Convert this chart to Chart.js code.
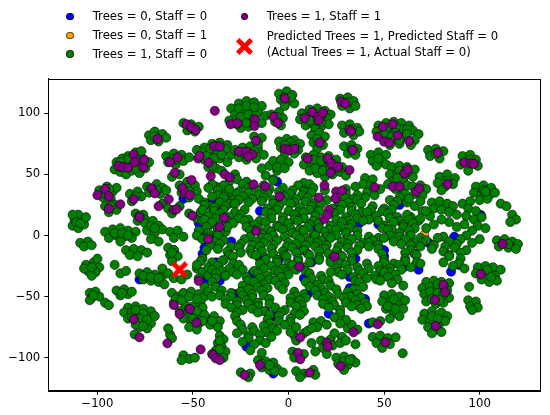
<!DOCTYPE html>
<html>
<head>
<meta charset="utf-8">
<script src="https://cdn.jsdelivr.net/npm/chart.js@4.4.1/dist/chart.umd.min.js"></script>
<style>
html,body{margin:0;padding:0;background:#fff;}
#wrap{position:relative;width:550px;height:415px;overflow:hidden;}
canvas{position:absolute;left:0;top:0;}
.lt{position:absolute;font-family:"DejaVu Sans",sans-serif;font-size:11.7px;line-height:14px;color:#000;white-space:nowrap;}
.dot{position:absolute;width:7.5px;height:7.5px;border-radius:50%;box-sizing:border-box;border:0.5px solid rgba(0,0,0,0.6);}
</style>
</head>
<body>
<div id="wrap">
<canvas id="c" width="550" height="415"></canvas>
<div class="dot" style="left:66.3px;top:12.9px;background:#0000ff"></div>
<div class="lt" style="left:92.7px;top:8.9px">Trees = 0, Staff = 0</div>
<div class="dot" style="left:66.3px;top:31.9px;background:#ffa500"></div>
<div class="lt" style="left:92.7px;top:28.2px">Trees = 0, Staff = 1</div>
<div class="dot" style="left:66.3px;top:50.2px;background:#008000"></div>
<div class="lt" style="left:92.7px;top:46.5px">Trees = 1, Staff = 0</div>
<div class="dot" style="left:240.6px;top:12.9px;background:#800080"></div>
<div class="lt" style="left:266.7px;top:8.9px">Trees = 1, Staff = 1</div>
<svg style="position:absolute;left:235.8px;top:38.2px" width="17" height="17" viewBox="-0.5 -0.5 1 1"><polygon fill="#ff0000" points="-0.5,-0.3 -0.3,-0.5 0,-0.2 0.3,-0.5 0.5,-0.3 0.2,0 0.5,0.3 0.3,0.5 0,0.2 -0.3,0.5 -0.5,0.3 -0.2,0"/></svg>
<div class="lt" style="left:266.7px;top:28.9px">Predicted Trees = 1, Predicted Staff = 0</div>
<div class="lt" style="left:266.7px;top:44.9px">(Actual Trees = 1, Actual Staff = 0)</div>
</div>
<script>
// ---- data ----
const xTicks = [-100, -50, 0, 50, 100];
const yTicks = [-100, -50, 0, 50, 100];

const seriesLabels = ["Trees = 0, Staff = 0", "Trees = 0, Staff = 1", "Trees = 1, Staff = 0", "Trees = 1, Staff = 1", "Predicted Trees = 1, Predicted Staff = 0 (Actual Trees = 1, Actual Staff = 0)"];

const bluePts = [
[-60,-12],[-45,-15],[-19,-31],[-21,-49],[-8,-66],[-22,-91],[-8,-113],[26,24],[7.5,40],[3,2],
[-36,39],[-47,10],[-46,-1],[-10,-66],[7.5,-12],[21,-64],[42,-72],[60.6,-25.5],[85,-29.6],[89,-24],
[73.6,-6.4],[86.7,-1],[100.6,16.8],[37,10],[-78,-36],[-38,-22],[-28,-48],[10,-48],[32,-43],[50,-12],
[-15,20],[-5,-20],[15,5],[45,15],[-30,-5],[-55,30],[-12,-62],[40,-52],[-44,-38],[66,-15],
[-40,29],[-33,4],[-44,-10],[-15,-19],[8,-35],[32,-34],[47,9],[50,-17],[35,-19],[-6,44],[58,25],[-36,-37],[12,-22],[68,-28]
];

const orangePts = [[71,0.4],[-18.6,-42]];

// outer clusters of the Trees = 1, Staff = 0 class
const greenOuter = [
[-113,8],[-110,6],[-107,9],[-112,13],[-108,13],[-110,17],[-106,15],[-113,17],[-111,11],[-109,10],
[-109,-6],[-105,-5],[-107,-9],[-103,-8],
[-106,-24],[-102,-22],[-99,-26],[-105,-29],[-101,-30],[-103,-33],[-100,-19],[-107,-27],[-103,-26],
[-91,-24],[-88,-31],[-85,-29],
[-85,-12],[-81,-11],[-77,-12],[-74,-14],[-83,-16],[-79,-17],
[-104,-47],[-101,-46],[-103,-51],[-99,-50],[-104,-53],[-102,-49],
[-96,-55],[-94,-57],
[-90,-45],[-86,-44],[-88,-49],[-84,-48],[-82,-46],[-87,-47],
[-84,-59],[-80,-58],[-76,-60],[-72,-62],[-86,-63],[-82,-63],[-78,-64],[-74,-66],[-70,-66],[-84,-68],[-80,-70],[-76,-71],[-72,-72],[-78,-75],[-74,-76],
[-80,-61],[-76,-64],[-82,-67],[-78,-68],[-74,-69],[-80,-73],[-76,-74],
[-80.5,-81],
[-62,-81],[-61,-84],[-63,-76],
[-55,-98],[-52,-101],[-49,-100],[-56,-102],
[-36,-82],[-34,-85],[-37,-88],[-35,-91],[-38,-94],[-40,-97],[-36,-97],[-33,-95],[-34,-100],[-36,-86],[-36,-93],
[-25,-112],[-20,-113],[-21,-116],
[-16,-102],[-12,-103],[-8,-104],[-14,-108],[-10,-110],[-6,-109],[-7,-111],[-3,-112],[-14,-105],[-10,-106],
[-61,-47],[-58,-50],[-55,-47],[-51,-46],[-47,-48],[-44,-50],[-60,-55],[-54,-57],[-50,-58],[-46,-55],[-57,-62],[-53,-64],[-49,-66],[-45,-63],[-55,-68],[-51,-70],[-47,-72],[-43,-68],[-39,-66],[-36,-70],[-52,-75],[-48,-77],[-41,-73],[-37,-75],
[-59,-52],[-56,-53],[-52,-50],[-48,-52],[-45,-59],[-52,-60],[-48,-62],[-44,-65],[-50,-68],[-45,-70],[-40,-70],
[-78,-31],[-74,-30],[-70,-32],[-66,-33],[-76,-36],[-72,-37],[-68,-38],[-65,-40],[-76,-33],[-72,-34],[-68,-35],
[-63,-10],[-60,-12],[-62,-16],[-58,-17],[-61,-21],[-61,-14],
[-66,-27],[-63,-31],[-60,-35],[-56,-36],[-53,-32],
[-48,-27],[-45,-30],[-42,-33],[-47,-35],
[-44,-42],[-42,-46],[-40,-50],
[-99,37],[-95,40],[-92,36],[-97,31],[-93,30],[-90,39],[-94,38],[-96,34],
[-96,24],[-91,25],[-94,19],[-90,21],[-93,24],
[-90,60],[-87,63],[-84,65],[-80,68],[-77,64],[-91,54],[-88,52],[-85,50],[-82,53],[-78,51],[-75,55],[-79,58],[-73,60],[-86,57],[-82,61],
[-88,56],[-84,58],[-80,64],[-84,62],[-77,60],[-88,60],[-80,55],
[-73,82],[-70,85],[-66,83],[-72,78],[-68,77],[-64,80],[-77,69],[-70,81],
[-83,34],[-79,36],[-77,32],[-82,28],[-80,32],
[-80,18],[-76,17],[-79,12],[-75,13],[-78,16],
[-66,26],[-63,22],[-57,24],[-61,18],
[-74,40],[-69,42],[-66,39],[-73,35],[-67,34],[-64,37],[-71,38],[-69,37],
[-64,65],[-60,67],[-56,66],[-63,60],[-59,58],[-55,61],[-52,64],[-59,62],[-60,63],
[-61,48],[-57,50],
[-55,92],[-51,91],[-47,89],[-53,86],[-49,85],[-51,88],
[-57,41],[-53,44],[-49,41],[-56,35],[-52,31],[-48,36],[-53,39],[-52,36],
[-52,18],[-48,14],[-46,19],
[-96,3],[-92,5],[-88,6],[-84,4],[-80,3],[-94,-2],[-90,0],[-86,-1],[-82,-2],[-88,-5],[-91,2],[-87,2],[-84,0],
[-75,10],[-71,12],[-68,8],[-74,4],[-70,2],[-66,5],[-72,-3],[-68,-5],[-72,8],[-70,6],
[-62,3],[-58,4],[-60,-2],[-55,-1],
[-48,70],[-44,72],[-40,75],[-36,76],[-32,74],[-46,66],[-42,68],[-38,70],[-34,69],[-30,66],[-44,62],[-40,60],[-36,63],[-32,60],[-42,56],[-38,55],
[-45,68],[-41,71],[-37,73],[-33,71],[-43,65],[-39,63],[-35,66],[-40,57],
[-35,53],[-31,44],[-28,50],
[-47,30],[-44,27],[-41,24],[-38,22],[-45,12],[-41,9],[-37,6],[-33,3],[-43,3],[-39,0],[-35,-3],
[-38,40],[-34,38],[-30,35],[-33,30],[-29,27],[-36,30],
[-30,104],[-26,108],[-22,110],[-18,109],[-14,106],[-28,99],[-24,101],[-20,103],[-16,101],[-12,98],[-31,94],[-27,95],[-23,94],[-19,97],[-14,92],[-25,88],[-21,89],
[-26,104],[-22,106],[-18,105],[-25,97],[-21,99],[-17,98],[-27,91],[-22,92],
[-28,70],[-24,72],[-20,73],[-16,71],[-13,66],[-26,64],[-22,62],[-17,63],[-22,67],[-18,69],[-24,68],
[-18,81],[-14,80],[-16,75],
[-9,99],[-5,101],[-3,96],[-7,93],[-4,90],[-6,97],
[-14,55],[-10,57],[-6,53],[-12,49],[-8,46],
[-5,116],[-1,118],[2,115],[-4,111],[0,110],[3,108],[-2,106],[-2,113],[1,113],
[27,112],[31,113],[34,110],[28,106],[32,104],[35,106],[31,109],
[7,100],[11,103],[15,104],[19,102],[22,99],[6,95],[10,97],[20,96],[9,90],[13,91],[17,89],[21,91],[14,87],[13,99],[17,97],[11,94],[17,93],
[28,90],[32,91],[36,88],[29,84],[34,82],[37,85],[33,87],
[47,90],[51,92],[55,93],[59,92],[63,90],[46,85],[53,87],[60,87],[65,86],[68,83],[49,80],[55,79],[61,81],[66,78],[53,74],[58,75],[64,74],
[51,88],[56,89],[62,87],[50,83],[56,84],[62,83],[58,78],[54,81],
[-5,77],[-1,79],[3,78],[6,75],[-4,72],[1,73],[5,70],[-2,67],[3,67],[1,76],[-2,74],[3,73],
[12,82],[16,84],[19,81],[13,76],[18,74],[15,71],[15,79],
[29,73],[33,74],[36,71],[31,67],[35,66],[33,70],
[73,70],[77,71],[81,69],[74,65],[79,63],[77,67],
[91,65],[95,66],[98,62],[90,58],[99,57],[94,53],[95,62],
[43,66],[47,68],[51,66],[44,61],[49,60],[46,57],[51,58],[47,63],
[-8,61],[-4,62],[0,60],[-6,56],[-2,55],
[9,64],[13,66],[17,64],[21,65],[25,62],[8,58],[12,59],[16,57],[20,57],[24,58],[28,56],[11,53],[15,51],[19,48],[23,50],[27,52],[30,49],
[13,62],[17,61],[21,61],[14,55],[18,53],[22,55],[26,55],
[54,56],[58,57],[62,56],[66,54],[53,50],[57,51],[61,49],[65,48],[55,45],[60,44],[58,53],[62,52],[57,47],
[52,42],[56,38],[60,37],[62,41],
[65,40],[69,41],[72,38],[66,34],[70,33],
[79,48],[83,50],[87,47],[78,43],[82,40],[86,42],[80,37],[83,45],
[98,40],[102,41],[106,39],[97,35],[101,34],[105,33],[108,35],[100,29],[104,30],[102,37],[103,36],
[111,26],[114,24],[117,17],[119,13],[116,11],
[40,47],[44,46],[39,42],[43,40],[41,35],[45,33],[40,31],
[75,27],[79,28],[83,26],[86,24],[76,22],[80,21],[84,19],[88,17],[74,16],[91,26],[95,28],[94,22],[98,20],[93,16],[97,13],[101,15],[99,8],[103,6],[96,4],[92,9],[88,7],[84,11],[80,13],[76,9],[72,6],[68,12],[64,15],[70,20],[66,24],[62,27],
[109,-4],[113,-3],[117,-5],[120,-7],[110,-9],[115,-10],[119,-11],[115,-7],
[99,-26],[103,-25],[107,-26],[111,-28],[98,-31],[104,-30],[108,-33],[101,-36],[105,-38],[109,-37],[104,-28],[106,-34],
[94.5,-42],
[94,-53],[98,-54],[95,-58],[99,-59],[96,-61],
[72,-38],[76,-37],[80,-38],[84,-39],[70,-43],[74,-42],[78,-44],[83,-45],[71,-48],[75,-49],[79,-50],[84,-51],[72,-54],[77,-56],[81,-55],
[78,-40],[74,-46],[78,-47],[81,-48],[75,-52],[79,-53],
[71,-64],[75,-62],[80,-63],[83,-66],[70,-69],[74,-70],[79,-72],[82,-70],[73,-75],[77,-77],[75,-80],[80,-79],[75,-66],[78,-68],
[50,-49],[54,-48],[58,-50],[61,-53],[49,-54],[53,-55],[57,-57],[60,-60],[51,-60],[55,-63],[58,-66],[53,-68],[55,-52],[52,-58],[56,-60],
[44,-71],[48,-70],
[44,-83],[48,-82],[52,-84],[46,-88],[53,-89],[49,-92],
[56,-83.3],[59.7,-96.4],
[31,-76],[33,-73],[36,-77],
[25,-100],[29,-99],[33,-101],[35,-104],[26,-105],[31,-106],[29,-110],[29,-103],[32,-102],
[3,-82],[8,-80],[4,-86],[1,-79],[10,-78],[12,-88],
[17,-86],[22,-85],[18,-92],[23,-90],
[2,-95],[8,-97],[3,-100],
[4,-111],[8,-113],[13,-110],[14,-114],[6,-116],
[13,-71],[17,-70],[20,-73],[15,-75],[12,-76]
];

// central mass of the Trees = 1, Staff = 0 class
const greenCenter = [
[-27,46],[-22,44],[-8,45],[8,43],
[-40,42],[-34,41],[-24,42],[-13,41],[5,41],[11,42],
[-42,39],[-37,37],[-31,38],[-26,36],[-21,39],[-16,37],[-10,38],[-3,39],[2,37],[8,36],[13,39],[19,37],[30,38],[35,40],[48,38],
[-37,33],[-27,34],[-21,35],[-16,33],[-11,35],[-5,36],[1,34],[7,33],[12,35],[30,34],[36,33],[61,34],
[-40,32],[-34,31],[-29,29],[-24,32],[-19,30],[-13,31],[-8,29],[-2,32],[4,30],[10,31],[20,29],[29,31],[34,30],[53,29],[58,31],[63,30],
[-36,27],[-31,26],[-26,29],[-21,27],[-14,28],[-8,26],[-3,28],[3,27],[9,28],[14,27],[26,28],[31,27],[36,29],[57,28],[69,28],
[-44,25],[-39,23],[-33,24],[-28,26],[-11,22],[-5,24],[1,26],[6,23],[12,24],[17,26],[23,22],[28,25],[33,23],[38,26],[44,24],[50,22],[55,25],
[-45,21],[-39,20],[-34,21],[-28,19],[-23,21],[-12,19],[-6,21],[0,20],[5,19],[11,21],[16,20],[27,21],[33,20],[38,19],[43,21],[49,20],[54,21],[72,20],
[-42,16],[-36,18],[-31,15],[-25,17],[-9,18],[-3,15],[3,17],[8,19],[14,16],[24,18],[30,15],[35,17],[41,19],[46,16],[52,18],[57,15],[62,17],
[-44,13],[-38,14],[-32,12],[-26,14],[-21,13],[-15,12],[-9,14],[-3,12],[3,13],[8,14],[13,12],[25,13],[31,12],[36,14],[42,13],[47,12],[53,14],[58,12],[63,13],[69,14],
[-40,11],[-34,9],[-29,10],[-23,12],[-18,9],[-12,11],[-6,8],[0,10],[5,12],[11,9],[16,10],[22,8],[28,11],[33,9],[39,12],[50,8],[55,11],[60,9],[65,10],
[-43,7],[-37,6],[-32,7],[-22,7],[-16,6],[-11,5],[-5,7],[1,6],[6,5],[10,7],[16,6],[21,5],[27,7],[32,6],[49,6],[54,5],[60,7],[66,6],
[-47,4],[-42,2],[-36,3],[-20,4],[-14,1],[-9,3],[-3,5],[2,2],[8,4],[13,1],[19,3],[25,5],[30,2],[36,4],[52,5],[58,2],[63,4],
[-48,0],[-42,-1],[-37,0],[-20,-1],[-14,-2],[-8,0],[-2,-1],[4,0],[9,-2],[14,0],[20,-1],[25,0],[31,-2],[36,0],[42,-1],[47,-2],[53,0],[58,-1],[64,0],[69,-2],[81,-1],[93,0],
[-45,-3],[-39,-5],[-34,-4],[-23,-3],[-17,-5],[-11,-2],[-6,-4],[0,-6],[6,-3],[11,-5],[17,-4],[22,-2],[28,-5],[33,-3],[39,-6],[44,-4],[50,-2],[55,-5],[61,-3],[66,-6],[72,-4],[78,-2],[84,-5],[90,-3],[96,-6],[100,-3],
[-41,-8],[-36,-7],[-30,-9],[-25,-7],[-19,-8],[-13,-6],[-8,-8],[-1,-9],[4,-7],[9,-8],[15,-6],[20,-8],[26,-9],[31,-7],[37,-8],[42,-6],[47,-8],[59,-7],[64,-8],[70,-6],[76,-8],[82,-9],[88,-7],
[-43,-12],[-37,-11],[-32,-13],[-26,-10],[-20,-12],[-15,-9],[-9,-11],[-3,-13],[2,-10],[8,-12],[14,-9],[19,-11],[25,-13],[31,-10],[36,-12],[42,-9],[47,-11],[64,-12],[69,-9],[75,-11],[81,-13],[87,-10],[93,-12],
[-31,-16],[-25,-14],[-19,-15],[-14,-13],[-8,-15],[-2,-16],[4,-14],[10,-15],[16,-13],[21,-15],[27,-16],[33,-14],[49,-15],[61,-14],[66,-15],[84,-16],[90,-14],
[-45,-19],[-34,-20],[-29,-17],[-17,-16],[-12,-18],[-6,-20],[-1,-17],[5,-19],[11,-16],[16,-18],[22,-20],[28,-17],[33,-19],[50,-20],[61,-19],[67,-16],[84,-17],[90,-19],
[-46,-21],[-40,-22],[-35,-21],[-29,-23],[-12,-20],[-6,-22],[0,-23],[5,-21],[11,-22],[16,-20],[22,-22],[27,-23],[33,-21],[50,-22],[55,-23],[61,-21],[67,-22],[81,-22],[89,-23],
[-48,-24],[-42,-26],[-37,-25],[-31,-27],[-26,-24],[-15,-23],[-9,-25],[-3,-27],[2,-24],[8,-26],[25,-27],[30,-24],[36,-26],[41,-23],[47,-25],[53,-27],[58,-24],[64,-26],[69,-23],[86,-25],[92,-27],
[-40,-28],[-35,-29],[-29,-30],[-24,-28],[-18,-29],[-13,-27],[-7,-29],[-1,-30],[4,-28],[9,-29],[26,-30],[31,-28],[37,-29],[42,-27],[48,-29],[53,-30],[59,-28],
[-38,-31],[-33,-33],[-27,-32],[-22,-34],[-16,-31],[-11,-33],[-5,-30],[0,-32],[11,-31],[17,-33],[22,-30],[28,-32],[34,-34],[39,-31],[45,-33],[50,-30],[56,-32],
[-38,-35],[-21,-37],[-15,-35],[-10,-36],[-4,-34],[12,-35],[18,-36],[35,-37],[41,-35],[46,-36],[52,-34],[57,-36],
[-40,-38],[-24,-41],[-18,-38],[-13,-40],[-7,-37],[-2,-39],[9,-38],[15,-40],[21,-37],[37,-38],[48,-37],[54,-39],[60,-41],
[-38,-42],[-21,-44],[-16,-42],[-11,-43],[-5,-41],[11,-42],[17,-43],[22,-41],[34,-44],[39,-42],
[-35,-45],[-30,-47],[-25,-46],[-19,-48],[-14,-45],[-3,-44],[3,-46],[8,-48],[14,-45],[19,-47],[25,-44],[31,-46],[36,-48],
[-36,-49],[-30,-50],[-24,-49],[-19,-51],[-13,-49],[4,-50],[9,-51],[15,-49],[21,-50],[26,-48],[32,-50],[38,-51],
[-33,-52],[-27,-54],[-22,-53],[-16,-55],[-10,-52],[1,-51],[6,-53],[18,-52],[23,-54],[29,-51],[35,-53],[40,-55],
[-33,-56],[-27,-57],[-21,-56],[-16,-58],[-10,-56],[1,-55],[7,-57],[18,-56],[24,-57],[30,-55],[36,-57],[41,-58],
[-30,-59],[-24,-61],[-19,-60],[-13,-62],[-7,-59],[-2,-61],[4,-58],[21,-59],[27,-61],[33,-58],[38,-60],
[-27,-63],[-16,-63],[-10,-65],[-4,-63],[3,-64],[8,-62],[27,-64],
[-28,-66],[-11,-69],[-5,-66],[1,-68],[6,-65],[24,-67],[30,-69],
[-27,-70],[-10,-72],[-5,-70],[1,-71],[27,-72],
[-25,-73],[-19,-75],[-13,-74],[-8,-76],[-2,-73],[4,-75],
[-24,-77],[-18,-78],[-12,-79],[-6,-78],
[-27,-80],[-21,-82],[-15,-81],[-9,-83],[24,-80],[28,-83],
[-21,-84],[-15,-86],[27,-88],
[-24,-87],[-18,-89],[-12,-88],[30,-86],[35,-89],
[-20,-94],[-14,-96],[14,-95],[20,-97]
];

const purplePts = [
[-100,33],[-96,38],[-94,32],[-94,22],[-88,25.5],
[-89,57],[-86.5,56],[-84,55.5],[-81,66],[-80.5,60],[-76,56],[-75.5,62],
[-68.5,79],[-81,29.6],[-78,15],
[-68,24],[-62.7,29.6],[-60,21],[-58.5,21.4],
[-71.7,38.6],[-70,34.5],
[-62,60],[-58,64],[-59.5,51.4],
[-53.4,91],[-50.8,88.5],[-48.6,86.3],
[-55.5,38.6],[-54.3,34.5],[-51.7,33],[-50.8,45.4],
[-50.3,16.2],
[-47.3,63],[-46.5,65],[-41.8,59.6],[-40.7,48.6],[-39,73],[-36,72.7],
[-38.6,102],
[-33.4,50],[-30.8,47.6],
[-42,-3],[-33.8,14.6],[-36,7],
[-30.3,91],[-26.8,91.8],[-17.8,95],[-17.8,89.6],
[-26,68.6],[-22,68.6],[-19,66.4],[-21.2,64.5],
[-17,77.6],
[-18.3,41.8],[-12.2,40],[-17,3.7],
[-7.8,97],[-5.6,92],
[-4.7,32],
[-2,112],[27.5,109.5],[29.8,108],
[8.4,96],[12.4,101],[15.3,97],[15.8,94.5],[18,100.5],
[31.9,86.3],[32.7,85],
[49.3,89],[54.5,91],[57,82],[50,76.8],[52.7,76],[63,77.3],[46.6,81],
[-2,71],[0.5,70],[3.1,71],
[16.2,76],[33.6,70],[78,67.8],[92,59.6],[95.4,59],[97,58.5],
[10,63],[20.5,63],[22.3,59],[25.8,56.3],[22,51.4],[31.9,53.6],
[60.6,50.9],[62.3,54],[54.5,40],[58,40],
[66.7,35.9],[68.4,38.6],[83.2,42.1],[45,39.4],
[18.8,41],[15.8,31],[24.9,36],[28,36.7],[24.5,30.4],
[21,20.9],[18.8,13.5],[20.5,16.8],
[112,-6.9],[100.6,-31.8],[81,-40.5],[82,-46.5],[76.6,-52.8],[77,-74],
[46.6,-72.7],[50.6,-87.4],[34,-79.2],[27.2,-106.8],[24,-17.3],[5.7,-25.5],
[6.1,-83.3],[20,-87.7],[20.5,-91],[4.9,-96],[6.1,-101.3],[11,-112.3],
[-81,-68.6],[-78,-83.3],[-63.4,-88.2],[-60,-56.9],[-57,-64.2],[-51.7,-60.2],[-48.2,-71.3],
[-46,-93.2],[-39.5,-97.8],[-38.1,-100.5],[-36,-101.9],[-23,-114.2],[-15,-106],[-47,-37.2]
];

const predictedPt = [[-57,-28]];

// ---- chart ----
function toXY(arr){ return arr.map(p => ({x:p[0], y:p[1]})); }
function fmt(v){ return String(v).replace('-', '\u2212'); }

const xMark = document.createElement('canvas');
xMark.width = 17; xMark.height = 17;
(function(){
  const g = xMark.getContext('2d');
  const pts = [[-0.5,-0.3],[-0.3,-0.5],[0,-0.2],[0.3,-0.5],[0.5,-0.3],[0.2,0],[0.5,0.3],[0.3,0.5],[0,0.2],[-0.3,0.5],[-0.5,0.3],[-0.2,0]];
  g.fillStyle = '#ff0000';
  g.beginPath();
  pts.forEach((p,i)=>{ const x = 8.5 + p[0]*17, y = 8.5 + p[1]*17; if(i===0) g.moveTo(x,y); else g.lineTo(x,y); });
  g.closePath(); g.fill();
})();

const frame = {
  id:'frame',
  afterDraw(chart){
    const a = chart.chartArea, c = chart.ctx;
    c.save(); c.strokeStyle = '#000'; c.lineWidth = 1;
    c.strokeRect(Math.round(a.left)+0.5, Math.round(a.top)+0.5, Math.round(a.right-a.left), Math.round(a.bottom-a.top));
    c.restore();
  }
};

function dotSet(label, pts, color, order){
  return {label, data: toXY(pts), backgroundColor: color, borderColor:'rgba(0,0,0,0.9)', borderWidth:0.6, pointRadius:4.6, pointHoverRadius:4.6, order};
}

const tickFont = {family:'"DejaVu Sans", sans-serif', size:11.7};

new Chart(document.getElementById('c'), {
  type:'scatter',
  data:{ datasets:[
    dotSet(seriesLabels[0], bluePts, '#0000ff', 4),
    dotSet(seriesLabels[1], orangePts, '#ffa500', 3),
    dotSet(seriesLabels[2], greenOuter.concat(greenCenter), '#008000', 2),
    dotSet(seriesLabels[3], purplePts, '#800080', 1),
    {label: seriesLabels[4], data: toXY(predictedPt), pointStyle: xMark, pointRadius: 8.5, order: 0}
  ]},
  options:{
    responsive:false, animation:false, events:[],
    layout:{padding:{top:78.7, right:9, left:0, bottom:0}},
    plugins:{legend:{display:false}, tooltip:{enabled:false}},
    scales:{
      x:{type:'linear', min:-125.7, max:131.8,
        afterBuildTicks: s => { s.ticks = xTicks.map(v => ({value:v})); },
        afterFit: s => { s.height = 24.3; },
        ticks:{font:tickFont, color:'#000', padding:2, maxRotation:0, autoSkip:false, callback: v => fmt(v)},
        grid:{drawOnChartArea:false, drawTicks:true, tickLength:4, color:'#000', tickWidth:1},
        border:{color:'#000', width:1}
      },
      y:{type:'linear', min:-127, max:128.3,
        afterBuildTicks: s => { s.ticks = yTicks.map(v => ({value:v})); },
        afterFit: s => { s.width = 48.3; },
        ticks:{font:tickFont, color:'#000', padding:4, autoSkip:false, callback: v => fmt(v)},
        grid:{drawOnChartArea:false, drawTicks:true, tickLength:4, color:'#000', tickWidth:1},
        border:{color:'#000', width:1}
      }
    }
  },
  plugins:[frame]
});
</script>
</body>
</html>
